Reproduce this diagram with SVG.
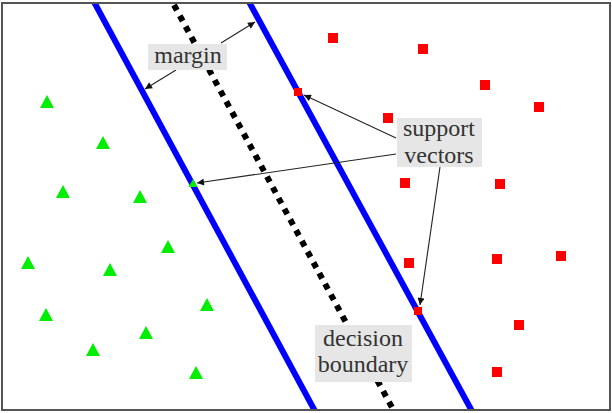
<svg xmlns="http://www.w3.org/2000/svg" width="612" height="413" viewBox="0 0 612 413">
<defs>
<marker id="ah" viewBox="0 0 10 10" refX="10" refY="5" markerWidth="8" markerHeight="7" markerUnits="userSpaceOnUse" orient="auto">
<path d="M0,0 L10,5 L0,10 z" fill="#111"/>
</marker>
<clipPath id="frame"><rect x="2" y="3" width="608" height="407"/></clipPath>
</defs>
<style>
.sq{fill:#ff0000}
.tri{fill:#00ee00}
.blue{stroke:#0000ff;stroke-width:6;fill:none}
.dec{stroke:#000;stroke-width:6;stroke-dasharray:6 6.2;fill:none}
.lbl{fill:#e6e6e6}
.txt{font-family:'Liberation Serif','DejaVu Serif',serif;font-size:24px;fill:#333;text-anchor:middle}
.arr{stroke:#222;stroke-width:1.1;fill:none;marker-end:url(#ah)}
</style>
<rect x="0" y="0" width="612" height="413" fill="#fff"/>
<g id="lines" clip-path="url(#frame)">
<line class="blue" x1="93" y1="0" x2="316" y2="413"/>
<line class="blue" x1="248" y1="0" x2="473" y2="413"/>
<line class="dec" x1="174" y1="5" x2="395" y2="413"/>
</g>
<g id="class-red">
<rect class="sq" x="328" y="33" width="10" height="10"/>
<rect class="sq" x="418" y="44" width="10" height="10"/>
<rect class="sq" x="480" y="80" width="10" height="10"/>
<rect class="sq" x="534" y="102" width="10" height="10"/>
<rect class="sq" x="383" y="113" width="10" height="10"/>
<rect class="sq" x="400" y="178" width="10" height="10"/>
<rect class="sq" x="495" y="179" width="10" height="10"/>
<rect class="sq" x="404" y="258" width="10" height="10"/>
<rect class="sq" x="492" y="254" width="10" height="10"/>
<rect class="sq" x="556" y="251" width="10" height="10"/>
<rect class="sq" x="514" y="320" width="10" height="10"/>
<rect class="sq" x="492" y="367" width="10" height="10"/>
<rect class="sq" x="294" y="88" width="8" height="8"/>
<rect class="sq" x="414" y="307" width="8" height="8"/>
</g>
<g id="class-green">
<path class="tri" d="M47,95 l7,13 h-14 z"/>
<path class="tri" d="M103,136 l7,13 h-14 z"/>
<path class="tri" d="M63,185 l7,13 h-14 z"/>
<path class="tri" d="M140,190 l7,13 h-14 z"/>
<path class="tri" d="M168,240 l7,13 h-14 z"/>
<path class="tri" d="M28,256 l7,13 h-14 z"/>
<path class="tri" d="M110,263 l7,13 h-14 z"/>
<path class="tri" d="M207,298 l7,13 h-14 z"/>
<path class="tri" d="M46,308 l7,13 h-14 z"/>
<path class="tri" d="M146,326 l7,13 h-14 z"/>
<path class="tri" d="M93,343 l7,13 h-14 z"/>
<path class="tri" d="M196,366 l7,13 h-14 z"/>
<path class="tri" d="M193,179 l4.5,8 h-9 z"/>
</g>
<g id="connectors">
<line class="arr" x1="221" y1="43" x2="255" y2="22"/>
<line class="arr" x1="176" y1="70" x2="145" y2="89"/>
<line class="arr" x1="396" y1="138" x2="304" y2="95"/>
<line class="arr" x1="396" y1="154" x2="197" y2="183"/>
<line class="arr" x1="440" y1="167" x2="420" y2="305"/>
</g>
<g id="label-margin">
<rect class="lbl" x="148" y="44" width="79" height="26"/>
<text class="txt" font-family="Liberation Serif, DejaVu Serif, serif" x="188" y="63">margin</text>
</g>
<g id="label-support">
<rect class="lbl" x="397" y="118" width="85" height="49"/>
<text class="txt" font-family="Liberation Serif, DejaVu Serif, serif" x="439" y="136">support</text>
<text class="txt" font-family="Liberation Serif, DejaVu Serif, serif" x="439" y="163">vectors</text>
</g>
<g id="label-decision">
<rect class="lbl" x="315" y="325" width="97" height="57"/>
<text class="txt" font-family="Liberation Serif, DejaVu Serif, serif" x="363" y="346">decision</text>
<text class="txt" font-family="Liberation Serif, DejaVu Serif, serif" x="363" y="372">boundary</text>
</g>
<rect id="border" x="2" y="3" width="608" height="407" fill="none" stroke="#555" stroke-width="2"/>
</svg>
